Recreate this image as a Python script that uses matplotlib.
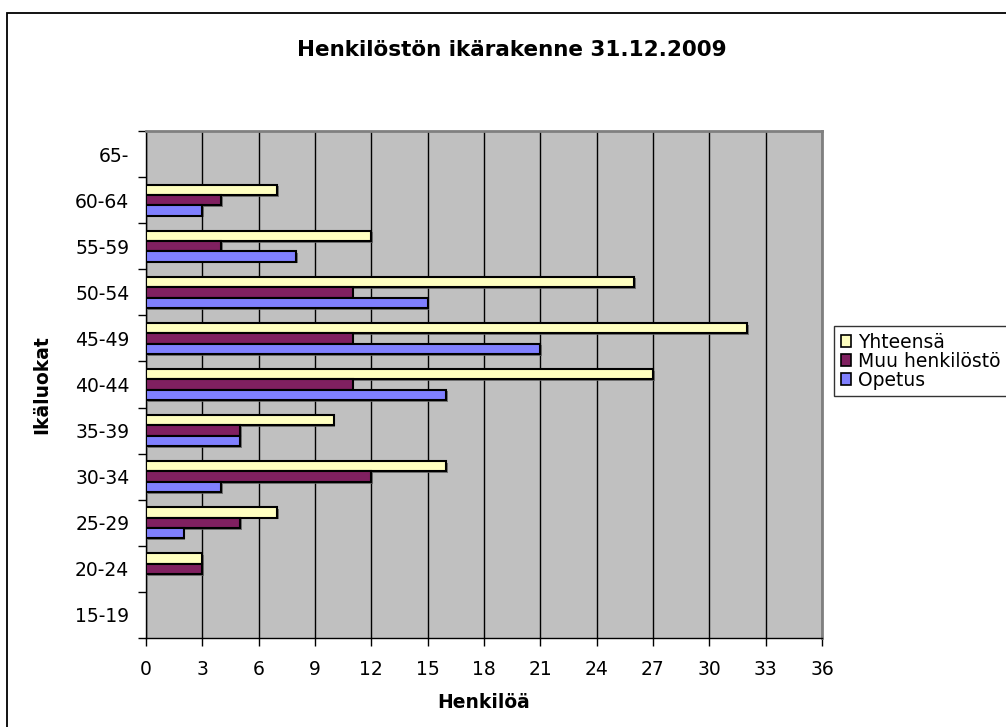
import numpy as np
import matplotlib
matplotlib.use("Agg")
import matplotlib.pyplot as plt
import matplotlib.patheffects as pe
from matplotlib.patches import Rectangle, Patch

categories = ["15-19", "20-24", "25-29", "30-34", "35-39", "40-44",
              "45-49", "50-54", "55-59", "60-64", "65-"]
opetus = [0, 0, 2, 4, 5, 16, 21, 15, 8, 3, 0]
muu = [0, 3, 5, 12, 5, 11, 11, 11, 4, 4, 0]
yhteensa = [0, 3, 7, 16, 10, 27, 32, 26, 12, 7, 0]
xticks = np.arange(0, 37, 3)

series = [("Yhteensä", yhteensa, "#FFFFC0"),
          ("Muu henkilöstö", muu, "#802060"),
          ("Opetus", opetus, "#8080FF")]

plt.rcParams["font.family"] = ["DejaVu Sans"]

W, H = 1006, 727
fig = plt.figure(figsize=(W / 100, H / 100), dpi=100)
fig.patch.set_facecolor("white")

# outer chart border (runs off the right and bottom edges)
fig.patches.append(Rectangle((7 / W, -0.2), 1.2, 1.2 - 13 / H,
                             transform=fig.transFigure, fill=False,
                             edgecolor="black", linewidth=1.3))

ax = fig.add_axes([146 / W, 1 - 638 / H, 676 / W, 507 / H])
ax.set_facecolor("#C0C0C0")

y = np.arange(len(categories))
h = 0.225
shadow = [pe.SimplePatchShadow(offset=(1.2, -1.2), shadow_rgbFace="#606060", alpha=0.8), pe.Normal()]
handles = []
for i, (name, vals, col) in enumerate(series):
    bars = ax.barh(y + h * (1 - i), vals, height=h, color=col,
                   edgecolor="black", linewidth=1.5, zorder=3)
    for p in bars:
        if p.get_width() > 0:
            p.set_path_effects(shadow)
        else:
            p.set_visible(False)
    handles.append(Patch(facecolor=col, edgecolor="black", linewidth=1.2, label=name))

ax.set_xlim(0, 36)
ax.set_ylim(-0.5, len(categories) - 0.5)
ax.set_xticks(xticks)
ax.set_xticklabels([str(v) for v in xticks], fontsize=13.5)
ax.set_yticks(y)
ax.set_yticklabels(categories, fontsize=13.5)
ax.set_yticks(np.arange(-0.5, len(categories), 1), minor=True)
ax.tick_params(axis="y", which="major", length=0, pad=12)
ax.tick_params(axis="y", which="minor", length=6, direction="out", width=1)
ax.tick_params(axis="x", length=6, direction="out", width=1, pad=10)
ax.grid(axis="x", color="black", linewidth=1, zorder=1)
ax.set_axisbelow(True)

for s in ("left", "bottom"):
    ax.spines[s].set_color("black")
    ax.spines[s].set_linewidth(1)
for s in ("top", "right"):
    ax.spines[s].set_color("#808080")
    ax.spines[s].set_linewidth(2)

ax.set_xlabel("Henkilöä", fontsize=13.5, fontweight="bold", labelpad=10)
ax.set_ylabel("Ikäluokat", fontsize=13.5, fontweight="bold", labelpad=17)

fig.text(512 / W, 1 - 50 / H, "Henkilöstön ikärakenne 31.12.2009",
         ha="center", va="center", fontsize=15.5, fontweight="bold")

leg = fig.legend(handles=handles, loc="upper left",
                 bbox_to_anchor=(834 / W, 1 - 326 / H), fontsize=13.5,
                 frameon=True, fancybox=False, handlelength=0.55,
                 handleheight=0.55, handletextpad=0.4, labelspacing=0.0,
                 borderpad=0.35, borderaxespad=0)
leg.get_frame().set_edgecolor("black")
leg.get_frame().set_linewidth(1)

fig.savefig("out.png", dpi=100)
